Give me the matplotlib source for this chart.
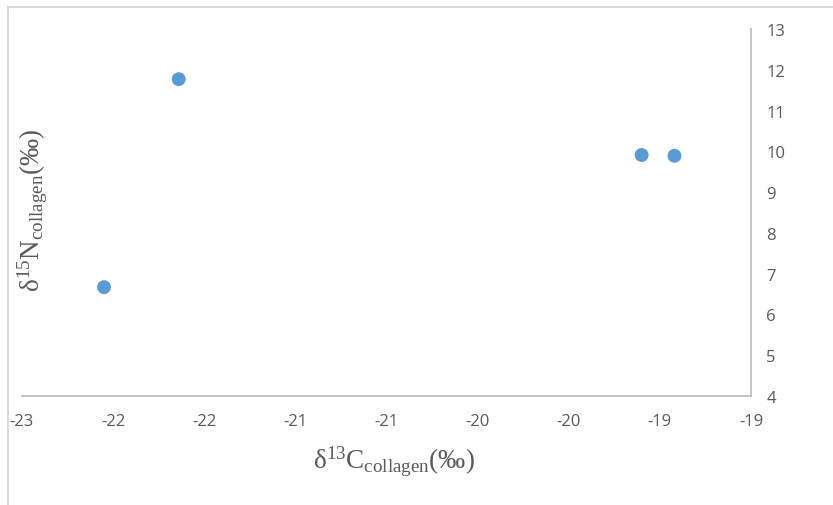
import matplotlib
matplotlib.use("Agg")
import matplotlib.pyplot as plt
from matplotlib.patches import Rectangle
import numpy as np

# Data
d13c = [-22.35, -21.94, -19.40, -19.22]
d15n = [6.67, 11.77, 9.91, 9.89]
x_ticks = [-22.8, -22.3, -21.8, -21.3, -20.8, -20.3, -19.8, -19.3, -18.8]
x_labels = ["-23", "-22", "-22", "-21", "-21", "-20", "-20", "-19", "-19"]
y_ticks = [4, 5, 6, 7, 8, 9, 10, 11, 12, 13]

plt.rcParams['mathtext.fontset'] = 'custom'
plt.rcParams['mathtext.rm'] = 'Liberation Serif'
plt.rcParams['mathtext.it'] = 'Liberation Serif'
plt.rcParams['mathtext.default'] = 'regular'

W, H = 833, 506
fig = plt.figure(figsize=(W / 100, H / 100), dpi=100)
fig.patch.set_facecolor('white')

# chart-area border (top and left visible)
fig.add_artist(Rectangle((7.5 / W, -0.1), 1.2, 1 - 8 / H + 0.1,
                         transform=fig.transFigure, fill=False,
                         edgecolor='#d9d9d9', linewidth=1.5))

ax = fig.add_axes([22 / W, 1 - 397 / H, (751 - 22) / W, (397 - 30) / H])
ax.scatter(d13c, d15n, s=100, color='#5b9bd5', edgecolors='none', zorder=3)

ax.set_xlim(x_ticks[0], x_ticks[-1])
ax.set_ylim(y_ticks[0], y_ticks[-1])
ax.set_xticks(x_ticks)
ax.set_xticklabels(x_labels)
ax.set_yticks(y_ticks)
ax.set_yticklabels([str(v) for v in y_ticks])
ax.yaxis.tick_right()

for s in ['top', 'left']:
    ax.spines[s].set_visible(False)
for s in ['bottom', 'right']:
    ax.spines[s].set_color('#bfbfbf')
    ax.spines[s].set_linewidth(1.3)

ax.tick_params(axis='both', length=0, labelsize=12, labelcolor='#595959')
ax.tick_params(axis='x', pad=12)
ax.tick_params(axis='y', pad=11)
for lab in ax.get_xticklabels() + ax.get_yticklabels():
    lab.set_fontfamily(['Liberation Sans Narrow', 'Open Sans'])

fig.text(394 / W, 1 - 462 / H, 'δ$^{13}$C$_{collagen}$(‰)',
         ha='center', va='center', fontsize=19.5, color='#595959',
         family='Liberation Serif')
fig.text(33 / W, 1 - 210 / H, 'δ$^{15}$N$_{collagen}$(‰)',
         ha='center', va='center', fontsize=19.5, color='#595959',
         family='Liberation Serif', rotation=90)

fig.savefig('out.png', dpi=100)
